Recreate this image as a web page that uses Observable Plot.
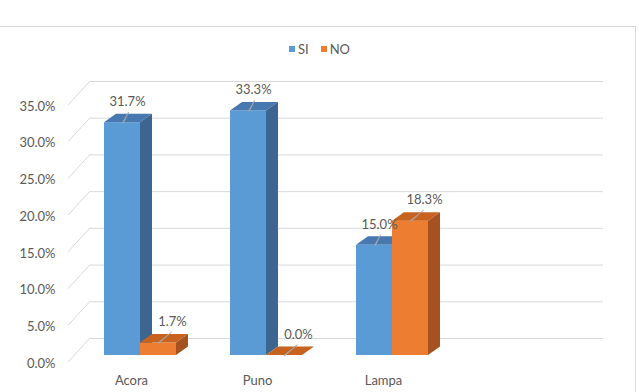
<!DOCTYPE html>
<html>
<head>
<meta charset="utf-8">
<script src="https://cdn.jsdelivr.net/npm/d3@7"></script>
<script src="https://cdn.jsdelivr.net/npm/@observablehq/plot@0.6"></script>
<style>
  body { margin: 0; background: #fff; }
  #wrap { position: relative; width: 639px; height: 392px; overflow: hidden; font-family: Lato, "Open Sans", sans-serif; }
  #frame { position: absolute; left: -1px; top: 26px; width: 637px; height: 420px; border: 1px solid #d9d9d9; box-sizing: border-box; }
  #chart { position: absolute; left: 0; top: 0; }
  #legend { position: absolute; top: 41px; left: 0; width: 639px; display: flex; justify-content: center; align-items: center; font-size: 13px; color: #595959; line-height: 16px; }
  #legend .sw { display: inline-block; width: 6px; height: 6px; margin-right: 3px; }
  #legend .item { display: inline-flex; align-items: center; margin: 0 6px; }
</style>
</head>
<body>
<div id="wrap">
  <div id="frame"></div>
  <div id="chart"></div>
  <div id="legend"></div>
</div>
<script>
const categories = ["Acora", "Puno", "Lampa"];
const seriesNames = ["SI", "NO"];
const siValues = [31.7, 33.3, 15.0];
const noValues = [1.7, 0.0, 18.3];
const yTicks = [0, 5, 10, 15, 20, 25, 30, 35];

const colors = {
  SI: { front: "#5b9bd5", top: "#4779b0", side: "#3c6691" },
  NO: { front: "#ed7d31", top: "#c8621f", side: "#a55220" }
};

const siRows = categories.map((c, i) => ({ cat: c, series: "SI", value: siValues[i] }));
const noRows = categories.map((c, i) => ({ cat: c, series: "NO", value: noValues[i] }));

const DX = 12, DY = -8.5;       // bar depth
const WX = 22, WY = -17;        // back wall offset

const fmt = d => d.toFixed(1) + "%";

function box3d(rows, col, insetLeft, insetRight) {
  return Plot.barY(rows, {
    x: "cat", y: "value", fill: col.front, insetLeft, insetRight,
    render(index, scales, values, dimensions, context, next) {
      const g = next(index, scales, values, dimensions, context);
      const rects = Array.from(g.querySelectorAll("rect"));
      for (const r of rects) {
        const x = +r.getAttribute("x"), y = +r.getAttribute("y");
        const w = +r.getAttribute("width"), h = +r.getAttribute("height");
        const top = document.createElementNS("http://www.w3.org/2000/svg", "polygon");
        top.setAttribute("points", `${x},${y} ${x + w},${y} ${x + w + DX},${y + DY} ${x + DX},${y + DY}`);
        top.setAttribute("fill", col.top);
        const side = document.createElementNS("http://www.w3.org/2000/svg", "polygon");
        side.setAttribute("points", `${x + w},${y} ${x + w + DX},${y + DY} ${x + w + DX},${y + h + DY} ${x + w},${y + h}`);
        side.setAttribute("fill", col.side);
        r.parentNode.appendChild(top);
        r.parentNode.appendChild(side);
      }
      return g;
    }
  });
}

const diagonals = Plot.ruleY(yTicks, {
  stroke: "#d9d9d9",
  render(index, scales, values, dimensions) {
    const g = d3.create("svg:g");
    const x0 = dimensions.marginLeft;
    for (const i of index) {
      const y = values.y[i];
      g.append("line")
        .attr("x1", x0).attr("y1", y + 7)
        .attr("x2", x0 + WX).attr("y2", y + WY)
        .attr("stroke", "#d9d9d9").attr("stroke-width", 1);
    }
    return g.node();
  }
});

const plot = Plot.plot({
  width: 639,
  height: 392,
  marginTop: 98,
  marginBottom: 37,
  marginLeft: 68,
  marginRight: 58,
  style: { fontFamily: "Lato, 'Open Sans', sans-serif", fontSize: "13px", background: "transparent", overflow: "visible" },
  x: { type: "band", domain: categories, range: [68, 446], padding: 0 },
  y: { domain: [0, 35] },
  marks: [
    Plot.ruleY(yTicks, { stroke: "#d9d9d9", dx: WX, dy: WY }),
    diagonals,
    Plot.axisY(yTicks, { tickSize: 0, tickPadding: 13, dy: 8, tickFormat: fmt, color: "#595959", fontSize: 13, label: null }),
    Plot.axisX({ tickSize: 0, tickPadding: 20, color: "#595959", fontSize: 13, label: null }),
    box3d(siRows, colors.SI, 36, 54),
    box3d(noRows, colors.NO, 72, 18),
    Plot.vector(siRows, { x: "cat", y: "value", dx: -8.5, length: 12, rotate: 28, anchor: "start", shape: "spike", r: 0.5, fill: "#a6a6a6", stroke: "#a6a6a6", strokeWidth: 0.6 }),
    Plot.vector(noRows, { x: "cat", y: "value", dx: 27, length: 17, rotate: 50, anchor: "start", shape: "spike", r: 0.5, fill: "#a6a6a6", stroke: "#a6a6a6", strokeWidth: 0.6 }),
    Plot.text(siRows, { x: "cat", y: "value", text: d => fmt(d.value), dx: -4, dy: -21, fill: "#595959", fontSize: 13 }),
    Plot.text(noRows, { x: "cat", y: "value", text: d => fmt(d.value), dx: 41, dy: -21, fill: "#595959", fontSize: 13 })
  ]
});
document.getElementById("chart").appendChild(plot);

const legend = document.getElementById("legend");
for (const s of seriesNames) {
  const item = document.createElement("span");
  item.className = "item";
  const sw = document.createElement("span");
  sw.className = "sw";
  sw.style.background = colors[s].front;
  const t = document.createElement("span");
  t.textContent = s;
  item.appendChild(sw);
  item.appendChild(t);
  legend.appendChild(item);
}
</script>
</body>
</html>
